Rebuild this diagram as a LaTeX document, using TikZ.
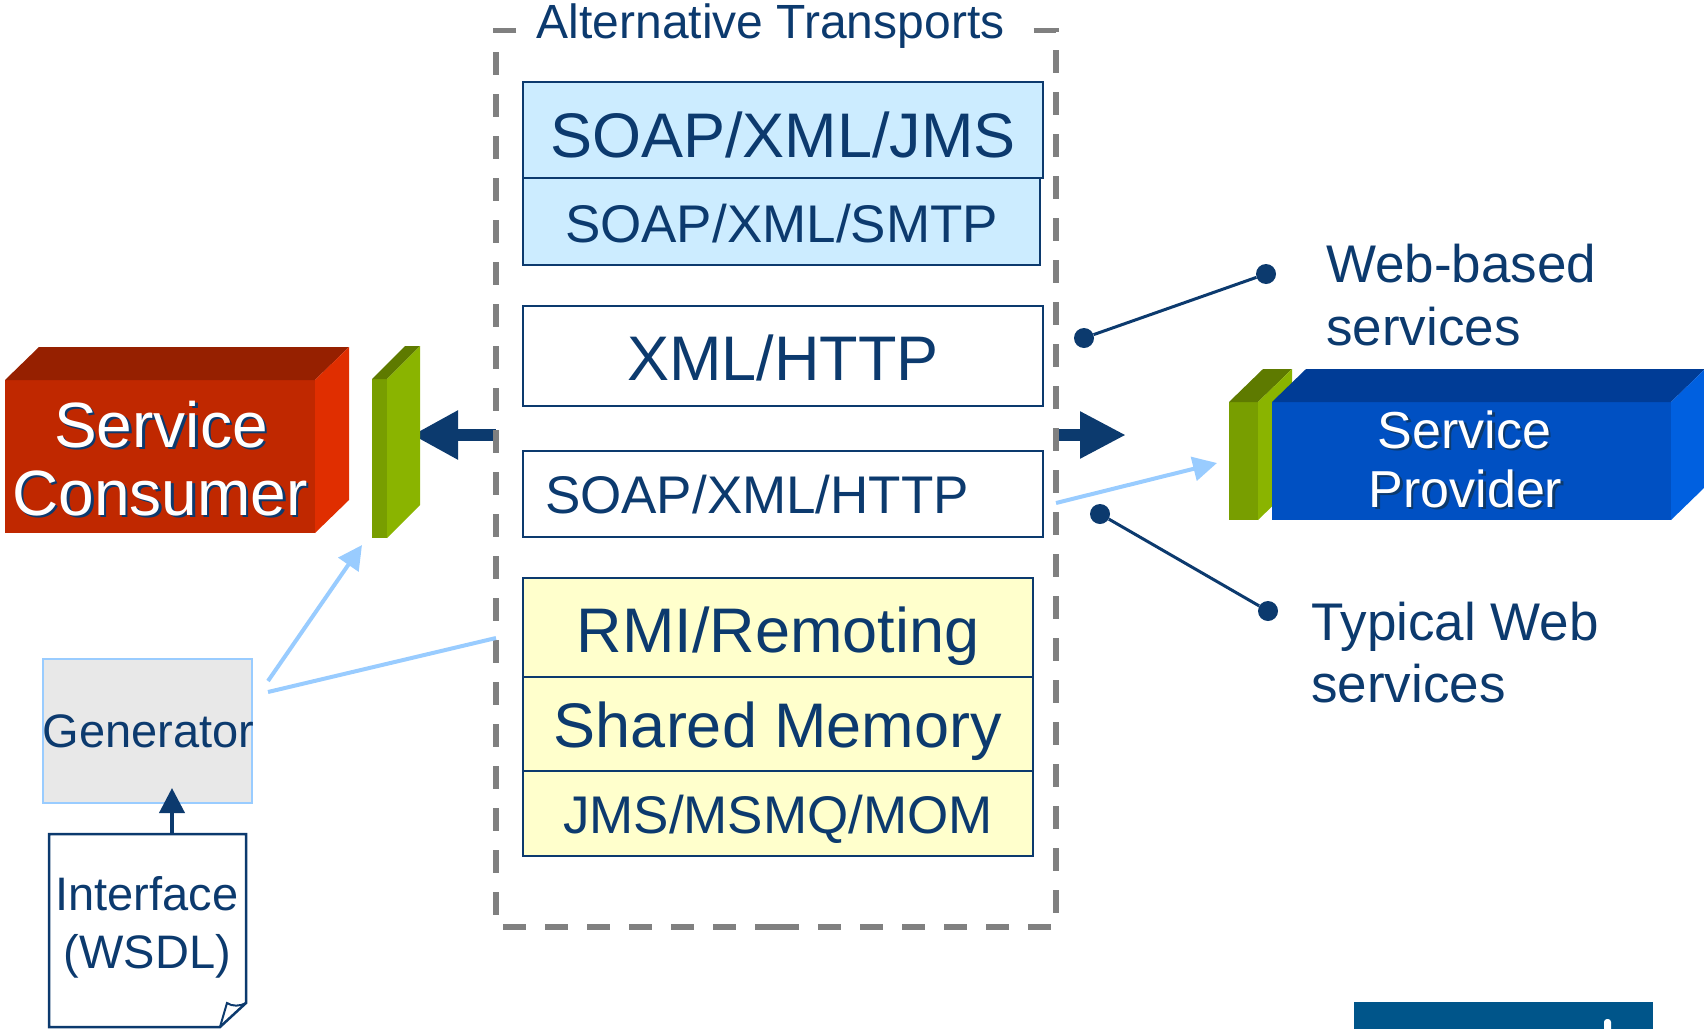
\documentclass[tikz,border=0pt]{standalone}
\usepackage{fontspec}
\setmainfont{Liberation Sans}
\usetikzlibrary{arrows.meta}
\definecolor{tdark}{RGB}{12,58,110}
\definecolor{framegray}{RGB}{128,128,128}
\definecolor{lblue}{RGB}{204,236,255}
\definecolor{lyellow}{RGB}{255,255,204}
\definecolor{lline}{RGB}{153,204,255}
\definecolor{genfill}{RGB}{232,232,232}
\definecolor{redfront}{RGB}{192,40,0}
\definecolor{redtop}{RGB}{150,32,0}
\definecolor{redside}{RGB}{224,46,0}
\definecolor{bluefront}{RGB}{0,80,194}
\definecolor{bluetop}{RGB}{0,60,150}
\definecolor{blueside}{RGB}{0,96,224}
\definecolor{gfront}{RGB}{120,158,0}
\definecolor{gside}{RGB}{138,180,0}
\definecolor{gtop}{RGB}{94,122,0}
\definecolor{logoblue}{RGB}{0,85,138}
\begin{document}
\begin{tikzpicture}[x=1pt,y=-1pt,
  tbox/.style={draw=tdark, line width=2.8pt, inner sep=0pt, outer sep=0pt, text=tdark, text depth=0pt},
  bigtxt/.style={font=\fontsize{63pt}{70pt}\selectfont},
  midtxt/.style={font=\fontsize{53pt}{60pt}\selectfont},
  lbltxt/.style={text=tdark, inner sep=0pt, font=\fontsize{53pt}{60pt}\selectfont},
  smalltxt/.style={text=tdark, inner sep=0pt, font=\fontsize{47pt}{52pt}\selectfont},
  face/.style={inner sep=0pt, outer sep=0pt},
  thick arrow/.style={tdark, line width=12pt},
  lbarrow/.style={lline, line width=4pt, -{Triangle[length=24pt,width=24pt]}},
  dot/.style={circle, fill=tdark, minimum size=20pt, inner sep=0pt},
  callout/.style={tdark, line width=3pt},
  framedash/.style={framegray, line width=5.5pt, dash pattern=on 23pt off 19pt}
]
\useasboundingbox (0,0) rectangle (1704,1028);

% ---------- transports ----------
\node[tbox, fill=lblue, bigtxt, minimum width=520pt, minimum height=96pt, text height=54pt] (jms) at (783,130) {SOAP/XML/JMS};
\node[tbox, fill=lblue, midtxt, minimum width=517pt, minimum height=87pt, text height=41pt] (smtp) at (781.5,221.5) {SOAP/XML/SMTP};
\node[tbox, fill=white, bigtxt, minimum width=520pt, minimum height=100pt, text height=48pt] (xmlhttp) at (783,356) {XML/HTTP};
\node[tbox, fill=white, midtxt, minimum width=520pt, minimum height=86pt, text height=38pt, text width=476pt, align=left] (soaphttp) at (783,494) {SOAP/XML/HTTP};
\node[tbox, fill=lyellow, bigtxt, minimum width=510pt, minimum height=99pt, text height=49pt] (rmi) at (778,627.5) {RMI/Remoting};
\node[tbox, fill=lyellow, bigtxt, minimum width=510pt, minimum height=94pt, text height=46pt] (shm) at (778,724) {Shared Memory};
\node[tbox, fill=lyellow, midtxt, minimum width=510pt, minimum height=85pt, text height=39pt] (mom) at (778,813.5) {JMS/MSMQ/MOM};

% frame (invisible node) and title
\node[face, minimum width=560pt, minimum height=896.5pt] (frame) at (776,478.75) {};
\node[text=tdark, inner xsep=20pt, inner ysep=0pt, anchor=base, font=\fontsize{48pt}{52pt}\selectfont] (title) at (770.5,38) {Alternative Transports};

% ---------- thick arrows ----------
\coordinate (ctip) at (412,435);
\coordinate (ptip) at (1126,435);
\draw[thick arrow, -{Triangle[length=46pt,width=46pt]}] (frame.west |- ctip) -- (ctip);
\draw[thick arrow, -{Triangle[length=46pt,width=44pt]}] (frame.east |- ptip) -- (ptip);

\draw[framedash]
  (title.west |- frame.north) -- (frame.north west) -- (frame.south west) -- (frame.south);
\draw[framedash]
  ([xshift=9pt]title.east |- frame.north) -- (frame.north east) -- (frame.south east) -- (frame.south);

% ---------- Service Consumer ----------
\node[face, fill=redfront, minimum width=310pt, minimum height=153pt] (consumer) at (160,456.5) {};
\fill[redtop] (consumer.north west) -- ++(34,-33) -- ([shift={(34,-33)}]consumer.north east) -- (consumer.north east) -- cycle;
\fill[redside] (consumer.north east) -- ++(34,-33) -- ([shift={(34,-33)}]consumer.south east) -- (consumer.south east) -- cycle;
\node[text=tdark, inner sep=0pt, anchor=base, font=\fontsize{64pt}{70pt}\selectfont, xshift=2.5pt, yshift=-2.5pt] (cons1s) at (161,447) {Service};
\node[text=white, inner sep=0pt, anchor=base, font=\fontsize{64pt}{70pt}\selectfont] (cons1) at (161,447) {Service};
\node[text=tdark, inner sep=0pt, anchor=base, font=\fontsize{64pt}{70pt}\selectfont, xshift=2.5pt, yshift=-2.5pt] (cons2s) at (160,515) {Consumer};
\node[text=white, inner sep=0pt, anchor=base, font=\fontsize{64pt}{70pt}\selectfont] (cons2) at (160,515) {Consumer};

% consumer plate
\node[face, fill=gfront, minimum width=15pt, minimum height=159pt] (cplate) at (379.5,458.5) {};
\fill[gtop] (cplate.north west) -- ++(33,-33) -- ([shift={(33,-33)}]cplate.north east) -- (cplate.north east) -- cycle;
\fill[gside] (cplate.north east) -- ++(33,-33) -- ([shift={(33,-33)}]cplate.south east) -- (cplate.south east) -- cycle;

% ---------- Service Provider ----------
\node[face, fill=gfront, minimum width=29pt, minimum height=118pt] (pplate) at (1243.5,461) {};
\fill[gtop] (pplate.north west) -- ++(34,-33) -- ([shift={(34,-33)}]pplate.north east) -- (pplate.north east) -- cycle;
\fill[gside] (pplate.north east) -- ++(34,-33) -- ([shift={(34,-33)}]pplate.south east) -- (pplate.south east) -- cycle;
\node[face, fill=bluefront, minimum width=399pt, minimum height=118pt] (provider) at (1471.5,461) {};
\fill[bluetop] (provider.north west) -- ++(34,-33) -- ([shift={(34,-33)}]provider.north east) -- (provider.north east) -- cycle;
\fill[blueside] (provider.north east) -- ++(34,-33) -- ([shift={(34,-33)}]provider.south east) -- (provider.south east) -- cycle;
\node[text=tdark, inner sep=0pt, anchor=base, font=\fontsize{52pt}{58pt}\selectfont, xshift=2.5pt, yshift=-2.5pt] (prov1s) at (1464.5,448) {Service};
\node[text=white, inner sep=0pt, anchor=base, font=\fontsize{52pt}{58pt}\selectfont] (prov1) at (1464.5,448) {Service};
\node[text=tdark, inner sep=0pt, anchor=base, font=\fontsize{52pt}{58pt}\selectfont, xshift=2.5pt, yshift=-2.5pt] (prov2s) at (1465.5,507) {Provider};
\node[text=white, inner sep=0pt, anchor=base, font=\fontsize{52pt}{58pt}\selectfont] (prov2) at (1465.5,507) {Provider};

% light-blue arrow to provider
\coordinate (soapy) at (0,503);
\coordinate (pltip) at (1217,463);
\draw[lbarrow] (frame.east |- soapy) -- (pltip);

% ---------- Generator & Interface ----------
\node[face, draw=lline, line width=2.5pt, fill=genfill, minimum width=209pt, minimum height=144pt] (gen) at (147.5,731) {};
\node[smalltxt, anchor=base] (gentext) at (148.5,747) {Generator};

\node[face, minimum width=197pt, minimum height=193pt] (iface) at (147.5,930.5) {};
\draw[tdark, line width=2.5pt, line join=miter, fill=white] (iface.north west) -- (iface.north east) -- ++(0,169) -- ++(-26,24) -- (iface.south west) -- cycle;
\coordinate (foldtop) at (246,1003);
\draw[tdark, line width=2pt] (foldtop) .. controls (240,1006.5) and (232,1006.5) .. (227,1003) -- (220,1027);
\node[smalltxt, anchor=base] (if1) at (147,910) {Interface};
\node[smalltxt, anchor=base] (if2) at (147.5,968) {(WSDL)};

\coordinate (gtip) at (172,788);
\draw[tdark, line width=4pt, -{Triangle[length=25pt,width=25pt]}] (iface.north -| gtip) -- (gtip);

\coordinate (g1) at (268,681);
\coordinate (g1tip) at (362,545);
\draw[lbarrow] (g1) -- (g1tip);
\coordinate (g2) at (268,692);
\coordinate (g2y) at (0,638);
\draw[lline, line width=4pt] (g2) -- (frame.west |- g2y);

% ---------- callouts ----------
\node[dot] (d1) at (1084,338) {};
\node[dot] (d2) at (1266,274) {};
\draw[callout] (d1) -- (d2);
\node[dot] (d3) at (1100,514) {};
\node[dot] (d4) at (1268,611) {};
\draw[callout] (d3) -- (d4);
\node[lbltxt, anchor=base west] (wb1) at (1326,282) {Web-based};
\node[lbltxt, anchor=base west] (wb2) at (1326,345) {services};
\node[lbltxt, anchor=base west] (tw1) at (1311,640) {Typical Web};
\node[lbltxt, anchor=base west] (tw2) at (1311,702) {services};

% ---------- partial logo bar ----------
\fill[logoblue] (1354,1002) rectangle (1653,1030);
\fill[white, rounded corners=3pt] (1604,1019) rectangle (1611,1034);
\end{tikzpicture}
\end{document}
